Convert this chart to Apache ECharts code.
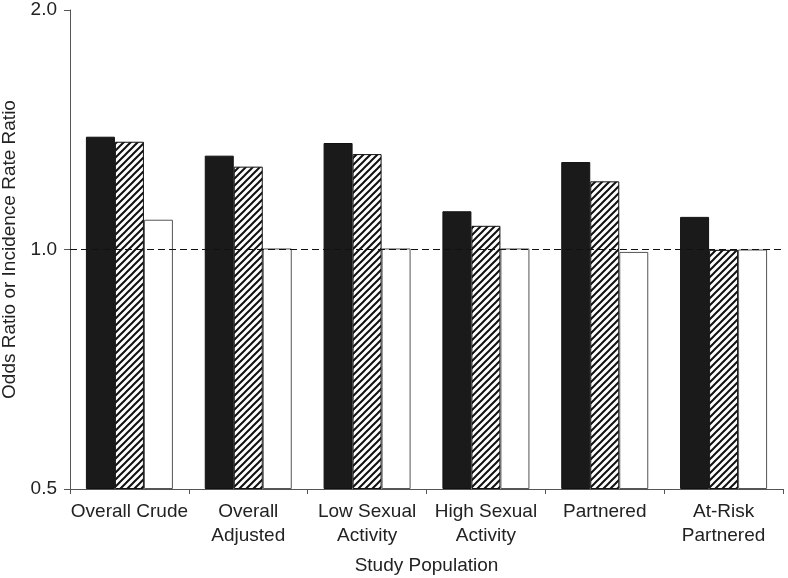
<!DOCTYPE html>
<html>
<head>
<meta charset="utf-8">
<script src="https://cdn.jsdelivr.net/npm/echarts@6/dist/echarts.min.js"></script>
<style>html,body{margin:0;padding:0;background:#fff;}#main{width:788px;height:578px;}</style>
</head>
<body>
<div id="main"></div>
<script>
var categories = ['Overall Crude', 'Overall\nAdjusted', 'Low Sexual\nActivity', 'High Sexual\nActivity', 'Partnered', 'At-Risk\nPartnered'];
var solidValues = [1.386, 1.312, 1.361, 1.117, 1.288, 1.099];
var hatchedValues = [1.366, 1.271, 1.318, 1.071, 1.218, 0.999];
var whiteValues = [1.090, 1.003, 1.003, 1.003, 0.993, 1.000];
var yTicks = [0.5, 1.0, 2.0];
var referenceValue = 1.0;

var hatch = document.createElement('canvas');
hatch.width = 7; hatch.height = 7;
var ctx = hatch.getContext('2d');
ctx.fillStyle = '#fff';
ctx.fillRect(0, 0, 7, 7);
ctx.strokeStyle = '#111';
ctx.lineWidth = 2;
ctx.beginPath();
ctx.moveTo(-1, 8); ctx.lineTo(8, -1);
ctx.moveTo(-1, 1); ctx.lineTo(1, -1);
ctx.moveTo(6, 8); ctx.lineTo(8, 6);
ctx.stroke();

var chart = echarts.init(document.getElementById('main'), null, {renderer: 'canvas'});
var font = 'Liberation Sans, Arial, sans-serif';
chart.setOption({
  animation: false,
  backgroundColor: '#fff',
  grid: {left: 70, right: 5, top: 10, bottom: 89, containLabel: false, outerBoundsMode: 'none'},
  xAxis: {
    type: 'category',
    data: categories,
    name: 'Study Population',
    nameLocation: 'middle',
    nameGap: 67,
    nameTextStyle: {fontFamily: font, fontSize: 19, color: '#222'},
    axisLine: {lineStyle: {color: '#555', width: 1}},
    axisTick: {show: true, length: 5, lineStyle: {color: '#555'}},
    axisLabel: {fontFamily: font, fontSize: 19, color: '#222', lineHeight: 24, margin: 11, interval: 0}
  },
  yAxis: {
    type: 'log',
    logBase: 2,
    min: yTicks[0],
    max: yTicks[yTicks.length - 1],
    startValue: yTicks[0],
    name: 'Odds Ratio or Incidence Rate Ratio',
    nameLocation: 'middle',
    nameGap: 50,
    nameTextStyle: {fontFamily: font, fontSize: 19, color: '#222'},
    axisLine: {show: true, lineStyle: {color: '#555', width: 1}},
    axisTick: {show: true, length: 6, lineStyle: {color: '#555'}},
    minorTick: {show: false},
    splitLine: {show: false},
    axisLabel: {fontFamily: font, fontSize: 19, color: '#222', margin: 13,
      formatter: function (v) { return Number(v).toFixed(1); }}
  },
  series: [
    {
      name: 'Solid', type: 'bar', data: solidValues, barWidth: 29, barGap: '0%',
      itemStyle: {color: '#1a1a1a', borderColor: '#111', borderWidth: 1}
    },
    {
      name: 'Hatched', type: 'bar', data: hatchedValues, barWidth: 29, barGap: '0%',
      itemStyle: {color: {image: hatch, repeat: 'repeat'}, borderColor: '#111', borderWidth: 1}
    },
    {
      name: 'Open', type: 'bar', data: whiteValues, barWidth: 29, barGap: '0%',
      itemStyle: {color: '#fff', borderColor: '#555', borderWidth: 1},
      markLine: {
        silent: true, symbol: ['none', 'none'], label: {show: false},
        lineStyle: {color: '#111', type: [7, 4], width: 1.2},
        data: [{yAxis: referenceValue}],
        z: 10
      }
    }
  ]
});
</script>
</body>
</html>
